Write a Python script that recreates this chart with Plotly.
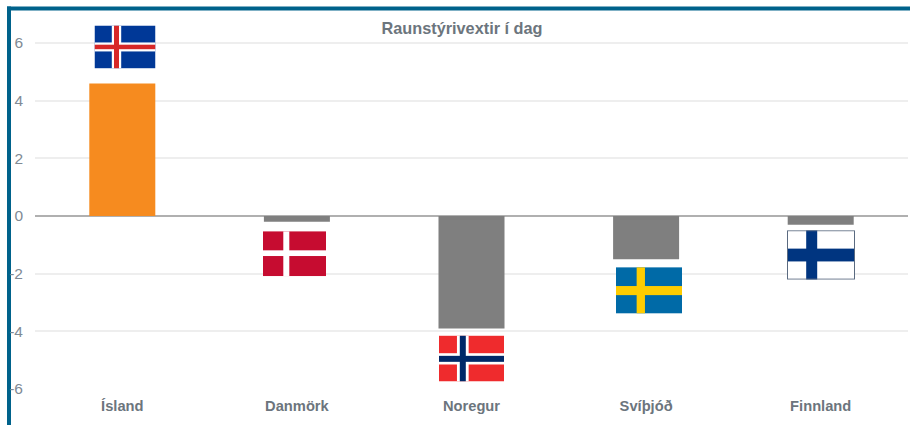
import base64
import plotly.graph_objects as go

categories = ["Ísland", "Danmörk", "Noregur", "Svíþjóð", "Finnland"]
values = [4.6, -0.2, -3.9, -1.5, -0.3]
bar_colors = ["#F68B1F", "#7F7F7F", "#7F7F7F", "#7F7F7F", "#7F7F7F"]
y_ticks = [-6, -4, -2, 0, 2, 4, 6]
title_text = "Raunstýrivextir í dag"

W, H = 910, 425
L, R, T, B = 35, 2, 10.5, 36
PW, PH = W - L - R, H - T - B


def px(x):
    return (x - L) / PW


def py(y):
    return 1 - (y - T) / PH


def nordic(w, h, bg, cross, vx, vw, hy, hw, inner=None, border=None):
    """Cross flag as SVG. vx/hy are cross centres, vw/hw its arm widths."""
    s = f'<svg xmlns="http://www.w3.org/2000/svg" width="{w}" height="{h}" viewBox="0 0 {w} {h}">'
    s += f'<rect width="{w}" height="{h}" fill="{bg}"/>'
    s += f'<rect x="{vx - vw / 2}" y="0" width="{vw}" height="{h}" fill="{cross}"/>'
    s += f'<rect x="0" y="{hy - hw / 2}" width="{w}" height="{hw}" fill="{cross}"/>'
    if inner:
        color, ivw, ihw = inner
        s += f'<rect x="{vx - ivw / 2}" y="0" width="{ivw}" height="{h}" fill="{color}"/>'
        s += f'<rect x="0" y="{hy - ihw / 2}" width="{w}" height="{ihw}" fill="{color}"/>'
    if border:
        s += f'<rect x="0.5" y="0.5" width="{w - 1}" height="{h - 1}" fill="none" stroke="{border}" stroke-width="1"/>'
    s += "</svg>"
    return "data:image/svg+xml;base64," + base64.b64encode(s.encode("utf-8")).decode("ascii")


# left, top, right, bottom in page pixels, then the picture
flags = [
    (94.5, 25, 155.5, 68, nordic(61, 43, "#003897", "#FFFFFF", 22, 9.4, 21.5, 9, ("#D72828", 5, 4.5))),
    (263, 231, 326, 276, nordic(63, 45, "#C60C30", "#FFFFFF", 23.3, 6, 22, 5.7)),
    (439, 335.5, 504, 381.5, nordic(65, 46, "#EF2B2D", "#FFFFFF", 23.8, 11.7, 23.3, 11.3, ("#002868", 6, 6))),
    (616, 267, 682, 313.5, nordic(66, 46, "#006AA7", "#FECC00", 24.8, 8.3, 23.2, 9)),
    (787, 230, 855, 279.5, nordic(68, 49, "#FFFFFF", "#003580", 24.7, 11, 24.6, 12.7, border="#5A6A80")),
]

fig = go.Figure(
    go.Bar(x=categories, y=values, marker=dict(color=bar_colors, line=dict(width=0)), width=0.378, hoverinfo="skip")
)

images = [
    dict(source=src, xref="paper", yref="paper", x=px(x0), y=py(y0),
         sizex=(x1 - x0) / PW, sizey=(y1 - y0) / PH, sizing="stretch",
         xanchor="left", yanchor="top", layer="above")
    for x0, y0, x1, y1, src in flags
]

frame = "#00628B"
shapes = [
    dict(type="rect", xref="paper", yref="paper", x0=px(7), x1=px(11), y0=py(6), y1=py(H),
         fillcolor=frame, line=dict(width=0), layer="below"),
    dict(type="rect", xref="paper", yref="paper", x0=px(7), x1=px(W), y0=py(6), y1=py(10),
         fillcolor=frame, line=dict(width=0), layer="below"),
]

fig.update_layout(
    width=W, height=H,
    margin=dict(l=L, r=R, t=T, b=B, pad=0),
    paper_bgcolor="white", plot_bgcolor="white",
    showlegend=False,
    font=dict(family="Liberation Sans, Arial, sans-serif", color="#6C757D", size=14),
    title=dict(text=f"<b>{title_text}</b>", x=462 / W, xref="container", xanchor="center",
               y=1 - 28 / H, yref="container", yanchor="middle",
               font=dict(size=16.3, color="#6C757D")),
    xaxis=dict(type="category", showgrid=False, zeroline=False, showline=False, ticks="",
               ticklabelstandoff=6, fixedrange=True,
               tickfont=dict(size=14.7, color="#6C757D", family="Liberation Sans, Arial, sans-serif", weight="bold")),
    yaxis=dict(range=[-6, (215.5 - T) / 28.83], tickvals=y_ticks, ticktext=[str(v) for v in y_ticks],
               showgrid=True, gridcolor="#EEEEEE", gridwidth=1.5,
               zeroline=True, zerolinecolor="#B0B0B0", zerolinewidth=2, showline=False,
               ticks="", ticklabelstandoff=11, fixedrange=True,
               tickfont=dict(size=15.5, color="#808A94")),
    images=images,
    shapes=shapes,
)

fig.write_html(
    "out.html",
    config={"displayModeBar": False},
    post_script="document.body.style.margin='0';document.body.style.overflow='hidden';",
)
